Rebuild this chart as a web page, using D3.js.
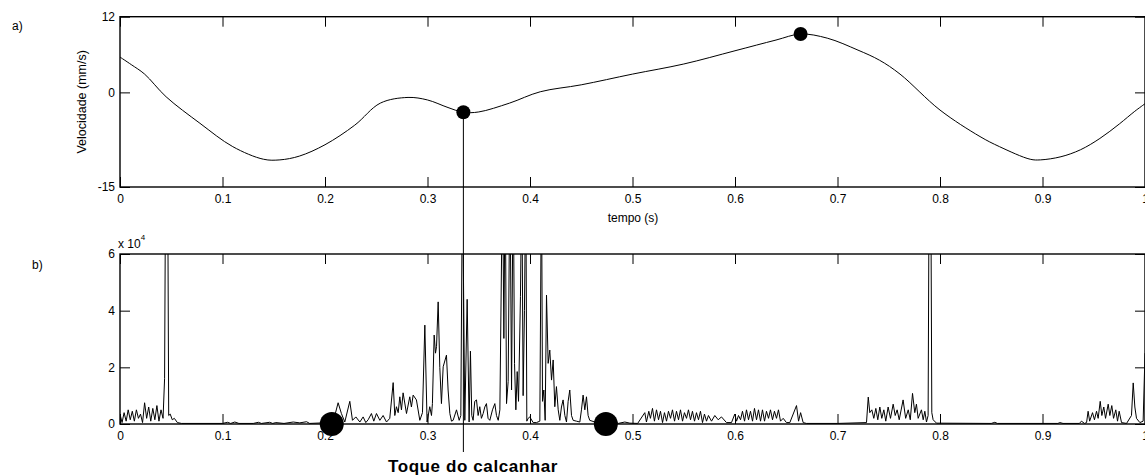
<!DOCTYPE html>
<html>
<head>
<meta charset="utf-8">
<script src="https://cdn.jsdelivr.net/npm/d3@7"></script>
<style>
  body { margin: 0; background: #fff; }
  svg { display: block; font-family: Arial, "Liberation Sans", sans-serif; }
</style>
</head>
<body>
<div id="wrapper"></div>
<script>
// a) velocidade (mm/s) ao longo do tempo (s)
const tempoVel = [0, 0.011, 0.024, 0.045, 0.078, 0.110, 0.140, 0.156, 0.175, 0.20, 0.229, 0.254, 0.281, 0.30, 0.32, 0.335, 0.35, 0.38, 0.41, 0.45, 0.50, 0.55, 0.60, 0.64, 0.664, 0.69, 0.72, 0.741, 0.761, 0.80, 0.839, 0.858, 0.888, 0.898, 0.918, 0.937, 0.956, 0.975, 0.99, 1.0];
const velocidade = [5.6, 4.4, 2.9, -0.7, -4.9, -8.6, -10.6, -10.7, -10.1, -8.3, -5.2, -1.7, -0.8, -1.2, -2.4, -3.15, -3.1, -1.7, 0.1, 1.2, 2.9, 4.5, 6.6, 8.3, 9.25, 8.6, 6.7, 5.1, 2.9, -2.8, -7.0, -8.6, -10.6, -10.7, -10.2, -9.1, -7.3, -5.0, -3.0, -1.8];
const marcasVel = [[0.335, -3.15], [0.664, 9.25]];

// b) sinal em unidades de 10^4, [tempo, valor]
const sinal = [
  [0, 0.35], [0.002, 0.05], [0.004, 0.4], [0.006, 0.1], [0.008, 0.5], [0.010, 0.15], [0.012, 0.45], [0.014, 0.1],
  [0.016, 0.5], [0.018, 0.2], [0.020, 0.35], [0.022, 0.05], [0.024, 0.75], [0.026, 0.2], [0.028, 0.6], [0.030, 0.1],
  [0.032, 0.55], [0.034, 0.15], [0.036, 0.65], [0.038, 0.1], [0.040, 0.5], [0.042, 0.2], [0.0435, 1.6], [0.0445, 9],
  [0.0465, 9], [0.0475, 0.3], [0.049, 0.35], [0.051, 0.15], [0.053, 0.2], [0.056, 0.05], [0.06, 0.02],
  [0.10, 0.02], [0.105, 0.06], [0.108, 0.02], [0.112, 0.07], [0.116, 0.02], [0.13, 0.02], [0.135, 0.06], [0.138, 0.02],
  [0.146, 0.06], [0.149, 0.02], [0.152, 0.05], [0.16, 0.02], [0.169, 0.07], [0.1754, 0.04], [0.182, 0.08], [0.185, 0.02],
  [0.2047, 0.05], [0.2096, 0.3], [0.2128, 0.75], [0.216, 0.37], [0.2193, 0.07], [0.2242, 0.8], [0.2268, 0.13], [0.2301, 0.25],
  [0.234, 0.07], [0.2372, 0.25], [0.2398, 0.05], [0.2421, 0.15], [0.2453, 0.37], [0.2476, 0.1], [0.2502, 0.37], [0.2535, 0.13],
  [0.2567, 0.3], [0.26, 0.07], [0.2632, 0.2], [0.2665, 1.46], [0.2681, 0.3], [0.2697, 0.61], [0.2714, 0.4], [0.273, 0.96],
  [0.2746, 0.5], [0.2762, 1.1], [0.2795, 0.37], [0.2827, 0.96], [0.2843, 0.6], [0.286, 1.02], [0.2892, 0.85], [0.2925, 0.13],
  [0.2951, 0.4], [0.2974, 3.49], [0.2996, 0.07], [0.3022, 0.61], [0.3039, 0.3], [0.3048, 0.72], [0.3065, 3.14], [0.3078, 2.5],
  [0.3088, 2.73], [0.3104, 4.31], [0.312, 2.0], [0.3136, 0.72], [0.3153, 2.02], [0.3185, 2.43], [0.3201, 1.2], [0.3218, 0.37],
  [0.3234, 0.1], [0.325, 0.13], [0.3283, 0.5], [0.3309, 0.13], [0.3325, 0.3], [0.3341, 9], [0.3364, 0.13], [0.3387, 4.4],
  [0.3406, 0.07], [0.3419, 2.57], [0.3432, 0.3], [0.3445, 0.13], [0.3461, 0.8], [0.3478, 0.85], [0.3494, 0.3], [0.351, 0.61],
  [0.3526, 0.2], [0.3543, 0.37], [0.3559, 0.6], [0.3575, 0.72], [0.3591, 0.2], [0.3608, 0.13], [0.3634, 0.5], [0.3657, 0.72],
  [0.3673, 0.3], [0.369, 0.13], [0.3706, 0.5], [0.3732, 9], [0.3745, 3.02], [0.3758, 9], [0.3771, 0.72], [0.3787, 1.5],
  [0.3804, 9], [0.382, 1.2], [0.3836, 9], [0.3849, 2.14], [0.3862, 0.5], [0.3875, 1.85], [0.3888, 0.8], [0.3907, 4.5],
  [0.392, 9], [0.3933, 1.0], [0.3946, 4.0], [0.3959, 9], [0.3969, 0.1], [0.3982, 0.2], [0.3998, 0.25], [0.4031, 0.05],
  [0.4063, 0.05], [0.4096, 0.1], [0.4112, 9], [0.4122, 0.8], [0.4135, 1.2], [0.4148, 0.13], [0.4161, 4.55], [0.4177, 2.14],
  [0.4193, 2.61], [0.421, 1.55], [0.4226, 2.26], [0.4242, 0.61], [0.4258, 1.32], [0.4275, 0.5], [0.4291, 0.13], [0.4307, 0.6],
  [0.4323, 0.85], [0.434, 0.3], [0.4356, 0.07], [0.4372, 0.8], [0.4388, 1.2], [0.4405, 0.3], [0.4421, 0.13], [0.4453, 0.1],
  [0.4486, 0.07], [0.4502, 0.5], [0.4518, 1.02], [0.4535, 0.5], [0.4551, 0.96], [0.4567, 0.3], [0.4583, 0.13], [0.4632, 0.07],
  [0.4681, 0.05], [0.475, 0.03], [0.482, 0.1], [0.486, 0.02], [0.4925, 0.07], [0.4974, 0.03], [0.505, 0.02],
  [0.512, 0.4], [0.5136, 0.07], [0.5159, 0.45], [0.5175, 0.2], [0.5195, 0.55], [0.5214, 0.1], [0.5234, 0.5], [0.5254, 0.15],
  [0.5273, 0.45], [0.5293, 0.05], [0.5312, 0.4], [0.5332, 0.1], [0.5351, 0.45], [0.5371, 0.2], [0.539, 0.5], [0.541, 0.1],
  [0.5429, 0.45], [0.5449, 0.15], [0.5468, 0.5], [0.5488, 0.1], [0.5507, 0.4], [0.5527, 0.2], [0.5546, 0.5], [0.5566, 0.15],
  [0.5585, 0.45], [0.5605, 0.1], [0.5624, 0.4], [0.5644, 0.15], [0.5663, 0.45], [0.5683, 0.05], [0.5702, 0.35], [0.5722, 0.1],
  [0.5741, 0.3], [0.5771, 0.1], [0.5803, 0.3], [0.5836, 0.15], [0.5868, 0.25], [0.5917, 0.05], [0.5966, 0.05], [0.5998, 0.35],
  [0.6015, 0.1], [0.6034, 0.3], [0.6054, 0.15], [0.6073, 0.45], [0.6093, 0.1], [0.6112, 0.5], [0.6132, 0.15], [0.6151, 0.45],
  [0.6171, 0.1], [0.619, 0.55], [0.621, 0.15], [0.6229, 0.5], [0.6249, 0.1], [0.6268, 0.5], [0.6288, 0.1], [0.6307, 0.45],
  [0.6327, 0.2], [0.6346, 0.5], [0.6366, 0.15], [0.6385, 0.45], [0.6405, 0.2], [0.6424, 0.5], [0.6444, 0.1], [0.647, 0.2],
  [0.6502, 0.05], [0.6535, 0.05], [0.66, 0.65], [0.662, 0.1], [0.664, 0.4], [0.6665, 0.05], [0.6697, 0.02], [0.70, 0.02],
  [0.7283, 0.05], [0.73, 0.95], [0.7315, 0.4], [0.7335, 0.5], [0.7354, 0.2], [0.7374, 0.55], [0.7393, 0.15], [0.7413, 0.6],
  [0.7432, 0.2], [0.7452, 0.5], [0.7471, 0.1], [0.7494, 0.6], [0.7517, 0.2], [0.7543, 0.7], [0.7563, 0.3], [0.7582, 0.5],
  [0.7602, 0.15], [0.764, 0.85], [0.7665, 0.2], [0.769, 0.5], [0.771, 0.15], [0.7732, 1.08], [0.7754, 0.4], [0.777, 0.7],
  [0.7787, 0.2], [0.7819, 0.5], [0.7836, 0.15], [0.7852, 0.45], [0.7868, 0.07], [0.7884, 0.3], [0.7894, 9], [0.791, 9],
  [0.792, 0.4], [0.7933, 0.15], [0.7966, 0.03], [0.85, 0.02], [0.8535, 0.06], [0.856, 0.02], [0.915, 0.02], [0.917, 0.05],
  [0.92, 0.02], [0.936, 0.02], [0.938, 0.1], [0.941, 0.02], [0.943, 0.05], [0.9445, 0.45], [0.946, 0.1], [0.9488, 0.4],
  [0.9507, 0.15], [0.9527, 0.45], [0.9543, 0.2], [0.9563, 0.8], [0.9579, 0.3], [0.9598, 0.6], [0.9615, 0.2], [0.9641, 0.7],
  [0.9657, 0.3], [0.9676, 0.65], [0.9693, 0.2], [0.9715, 0.5], [0.9732, 0.1], [0.9748, 0.45], [0.9771, 0.05], [0.982, 0.02],
  [0.9868, 0.3], [0.9885, 1.45], [0.9901, 0.6], [0.9917, 0.2], [0.995, 0.05], [0.9982, 0.1], [1.0, 2.5]
];
const marcasSinal = [0.2066, 0.474];

const xTicks = [0, 0.1, 0.2, 0.3, 0.4, 0.5, 0.6, 0.7, 0.8, 0.9, 1];
const yTicksVel = [-15, 0, 12];
const yTicksSinal = [0, 2, 4, 6];
const instante = 0.335; // toque do calcanhar

function drawChart() {
  const dimensions = {
    width: 1145,
    height: 476,
    left: 120,
    right: 1145,
    topA: 16.7,
    bottomA: 187,
    topB: 254,
    bottomB: 424,
  };

  const svg = d3
    .select("#wrapper")
    .append("svg")
    .attr("width", dimensions.width)
    .attr("height", dimensions.height);

  const xScale = d3
    .scaleLinear()
    .domain([0, 1])
    .range([dimensions.left, dimensions.right]);

  const yVel = d3
    .scaleLinear()
    .domain([-15, 12])
    .range([dimensions.bottomA, dimensions.topA]);

  const ySinal = d3
    .scaleLinear()
    .domain([0, 6])
    .range([dimensions.bottomB, dimensions.topB]);

  // hífen simples como no original, nada de sinal de menos unicode
  const fmt = (d) => String(d);
  const tick = 10;

  // eixos com marcas para dentro
  function drawAxes(yScale, yTicks, top, bottom) {
    svg.append("g")
      .attr("transform", `translate(0,${bottom})`)
      .call(d3.axisBottom(xScale).tickValues(xTicks).tickFormat(fmt).tickSize(-tick).tickPadding(7.5))
      .call((g) => g.select(".domain").remove());
    svg.append("g")
      .attr("transform", `translate(0,${top})`)
      .call(d3.axisTop(xScale).tickValues(xTicks).tickFormat("").tickSize(-tick))
      .call((g) => g.select(".domain").remove());
    svg.append("g")
      .attr("transform", `translate(${dimensions.left},0)`)
      .call(d3.axisLeft(yScale).tickValues(yTicks).tickFormat(fmt).tickSize(-tick).tickPadding(5))
      .call((g) => g.select(".domain").remove());
    svg.append("g")
      .attr("transform", `translate(${dimensions.right},0)`)
      .call(d3.axisRight(yScale).tickValues(yTicks).tickFormat("").tickSize(-tick))
      .call((g) => g.select(".domain").remove());
    svg.append("rect")
      .attr("x", dimensions.left)
      .attr("y", top)
      .attr("width", dimensions.right - dimensions.left)
      .attr("height", bottom - top)
      .attr("fill", "none")
      .attr("stroke", "#000")
      .attr("stroke-width", 1.4);
  }

  drawAxes(yVel, yTicksVel, dimensions.topA, dimensions.bottomA);
  drawAxes(ySinal, yTicksSinal, dimensions.topB, dimensions.bottomB);

  svg.selectAll(".tick text").attr("font-size", 12).attr("fill", "#000");
  svg.selectAll(".tick line").attr("stroke", "#000");

  // curva de velocidade
  const velLine = d3
    .line()
    .x((d, i) => xScale(tempoVel[i]))
    .y((d) => yVel(d))
    .curve(d3.curveCatmullRom);

  svg.append("path")
    .datum(velocidade)
    .attr("d", velLine)
    .attr("fill", "none")
    .attr("stroke", "#000")
    .attr("stroke-width", 1);

  // sinal, cortado na caixa
  svg.append("clipPath")
    .attr("id", "clipB")
    .append("rect")
    .attr("x", dimensions.left)
    .attr("y", dimensions.topB)
    .attr("width", dimensions.right - dimensions.left)
    .attr("height", dimensions.bottomB - dimensions.topB + 1);

  const sinalLine = d3
    .line()
    .x((d) => xScale(d[0]))
    .y((d) => ySinal(d[1]));

  svg.append("path")
    .datum(sinal)
    .attr("d", sinalLine)
    .attr("clip-path", "url(#clipB)")
    .attr("fill", "none")
    .attr("stroke", "#000")
    .attr("stroke-width", 1);

  // linha vertical do toque do calcanhar
  svg.append("line")
    .attr("x1", xScale(instante))
    .attr("x2", xScale(instante))
    .attr("y1", yVel(marcasVel[0][1]))
    .attr("y2", 452)
    .attr("stroke", "#000")
    .attr("stroke-width", 1);

  svg.selectAll("circle.vel")
    .data(marcasVel)
    .join("circle")
    .attr("class", "vel")
    .attr("cx", (d) => xScale(d[0]))
    .attr("cy", (d) => yVel(d[1]))
    .attr("r", 7)
    .attr("fill", "#000");

  svg.selectAll("circle.sinal")
    .data(marcasSinal)
    .join("circle")
    .attr("class", "sinal")
    .attr("cx", (d) => xScale(d))
    .attr("cy", ySinal(0))
    .attr("r", 12)
    .attr("fill", "#000");

  // textos
  svg.append("text").attr("x", 12).attr("y", 30).attr("font-size", 12).text("a)");
  svg.append("text").attr("x", 32).attr("y", 269).attr("font-size", 12).text("b)");

  svg.append("text")
    .attr("transform", `translate(86,${(dimensions.topA + dimensions.bottomA) / 2}) rotate(-90)`)
    .attr("text-anchor", "middle")
    .attr("font-size", 12.5)
    .text("Velocidade (mm/s)");

  svg.append("text")
    .attr("x", 633)
    .attr("y", 222)
    .attr("text-anchor", "middle")
    .attr("font-size", 12)
    .text("tempo (s)");

  const escala = svg.append("text").attr("x", 118).attr("y", 248).attr("font-size", 12);
  escala.append("tspan").text("x 10");
  escala.append("tspan").attr("dy", -8).attr("font-size", 8).text("4");

  svg.append("text")
    .attr("x", 473)
    .attr("y", 472)
    .attr("text-anchor", "middle")
    .attr("font-size", 17)
    .attr("font-weight", "bold")
    .attr("letter-spacing", 0.6)
    .text("Toque do calcanhar");
}

drawChart();
</script>
</body>
</html>
